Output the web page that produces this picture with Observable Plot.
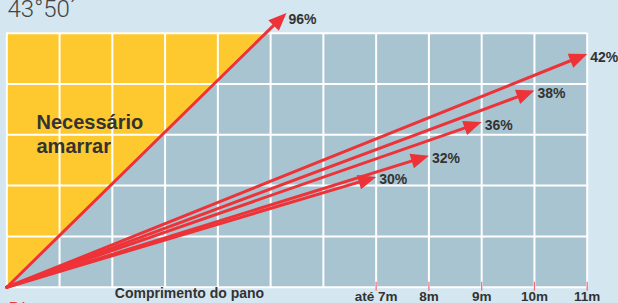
<!DOCTYPE html>
<html>
<head>
<meta charset="utf-8">
<script src="https://cdn.jsdelivr.net/npm/d3@7"></script>
<script src="https://cdn.jsdelivr.net/npm/@observablehq/plot@0.6"></script>
<style>
  html, body { margin: 0; padding: 0; background: #d4e6f0; overflow: hidden; }
  svg { display: block; }
</style>
</head>
<body>
<div id="chart"></div>
<script>
// ---- data ----
const slopeLabels = ["30%", "32%", "36%", "38%", "42%", "96%"];
const endLength = [7, 8, 9, 10, 11, 5.3];      // metres along the ground
const endHeight = [2.17, 2.59, 3.25, 3.87, 4.59, 5.4];
const tickValues = [7, 8, 9, 10, 11];
const tickLabels = ["até 7m", "8m", "9m", "10m", "11m"];
const gridX = [0, 1, 2, 3, 4, 5, 6, 7, 8, 9, 10, 11];
const gridY = [0, 1, 2, 3, 4, 5];
const zoneEdgeX = [0, 4.9];
const zoneEdgeY = [0, 5];
const titleText = "43°50´";
const zoneText = "Necessário\namarrar";
const axisTitle = "Comprimento do pano";
const bottomText = "Di";

// ---- layout ----
const W = 618, H = 303;
const mL = 6.3, mR = 31.3, mT = 32.7, mB = 16.3;
const xMax = 11, yMax = 5;
const kx = (W - mL - mR) / xMax;
const ky = (H - mT - mB) / yMax;

const RED = "#ee3338";
const INK = "#333333";

const arrows = slopeLabels.map((label, i) => ({
  label,
  x: endLength[i],
  y: endHeight[i],
  rot: Math.atan2(endLength[i] * kx, endHeight[i] * ky) * 180 / Math.PI
}));
const zone = zoneEdgeX.map((x, i) => ({x, y: zoneEdgeY[i]}));
const ticks = tickValues.map((v, i) => ({v, label: tickLabels[i]}));

// filled arrow head, tip at origin pointing up
const headSymbol = {
  draw(context) {
    context.moveTo(0, 0);
    context.lineTo(7.5, 18);
    context.lineTo(-7.5, 18);
    context.closePath();
  }
};

const font = "'Liberation Sans', Arial, Helvetica, sans-serif";

const plot = Plot.plot({
  width: W,
  height: H,
  marginLeft: mL,
  marginRight: mR,
  marginTop: mT,
  marginBottom: mB,
  x: {domain: [0, xMax], axis: null},
  y: {domain: [0, yMax], axis: null},
  style: {background: "#d4e6f0", fontFamily: font, overflow: "hidden"},
  marks: [
    Plot.frame({fill: "#a8c4d1", stroke: null}),
    Plot.areaX(zone, {y: "y", x1: 0, x2: "x", fill: "#fec92e"}),
    Plot.ruleX(gridX, {x: d => d, stroke: "white", strokeWidth: 2}),
    Plot.ruleY(gridY, {y: d => d, stroke: "white", strokeWidth: 2}),
    Plot.ruleX(ticks, {x: "v", y1: 0, y2: 0, insetTop: -5, insetBottom: -4, stroke: "#f06a78", strokeWidth: 1.2}),
    Plot.arrow(arrows, {x1: 0, y1: 0, x2: "x", y2: "y", headLength: 0, insetEnd: 10, stroke: RED, strokeWidth: 3}),
    Plot.dot(arrows, {x: "x", y: "y", symbol: headSymbol, rotate: "rot", fill: RED, stroke: null}),
    Plot.text(arrows.filter(d => d.label !== "96%"), {x: "x", y: "y", text: "label", dx: 3, dy: 3, textAnchor: "start", fontWeight: "bold", fontSize: 14, fill: INK}),
    Plot.text(arrows.filter(d => d.label === "96%"), {x: "x", y: "y", text: "label", dx: 2, dy: 7, textAnchor: "start", fontWeight: "bold", fontSize: 14, fill: INK}),
    Plot.text(ticks, {x: "v", y: 0, text: "label", dy: 9.8, fontWeight: "bold", fontSize: 13.5, fill: INK}),
    Plot.text([axisTitle], {frameAnchor: "bottom", text: d => d, dx: -107.5, dy: 10.3, fontWeight: "bold", fontSize: 14, fill: INK}),
    Plot.text([zoneText], {frameAnchor: "top-left", text: d => d, dx: 29.7, dy: 79, lineAnchor: "top", textAnchor: "start", lineHeight: 1.18, fontWeight: "bold", fontSize: 20, fill: INK}),
    Plot.text([titleText], {frameAnchor: "top-left", text: d => d, dx: 0.7, dy: -33, lineAnchor: "top", textAnchor: "start", fontFamily: "Roboto", fontWeight: 300, fontSize: 24, fill: "#444444"}),
    Plot.text([bottomText], {frameAnchor: "bottom-left", text: d => d, dx: 1.7, dy: 15.5, lineAnchor: "top", textAnchor: "start", fontSize: 18, fill: RED})
  ]
});
document.getElementById("chart").appendChild(plot);
</script>
</body>
</html>
